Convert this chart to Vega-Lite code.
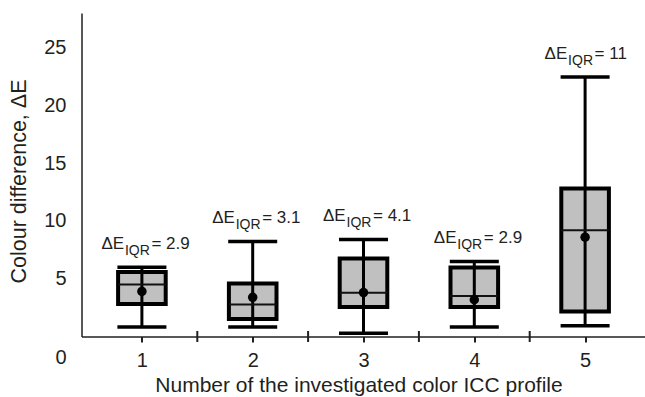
{
  "$schema": "https://vega.github.io/schema/vega-lite/v6.json",
  "autosize": "none",
  "width": 564,
  "height": 323.5,
  "padding": {"left": 81.5, "top": 13, "right": 0, "bottom": 60.5},
  "background": "white",
  "config": {
    "view": {"stroke": null},
    "font": "Liberation Sans",
    "axis": {"labelFont": "Liberation Sans", "titleFont": "Liberation Sans", "labelColor": "#231f20", "titleColor": "#231f20", "titleFontWeight": "normal", "domainColor": "#231f20", "tickColor": "#231f20", "grid": false, "labelFontSize": 20, "titleFontSize": 21}
  },
  "data": {"values": [
    {"x": 1, "min": 0.82, "q1": 2.81, "median": 4.5, "q3": 5.58, "max": 6.0, "mean": 3.9, "iqr_text": "= 2.9"},
    {"x": 2, "min": 0.82, "q1": 1.51, "median": 2.78, "q3": 4.58, "max": 8.23, "mean": 3.39, "iqr_text": "= 3.1"},
    {"x": 3, "min": 0.28, "q1": 2.55, "median": 3.79, "q3": 6.75, "max": 8.4, "mean": 3.8, "iqr_text": "= 4.1"},
    {"x": 4, "min": 0.82, "q1": 2.55, "median": 3.5, "q3": 5.97, "max": 6.5, "mean": 3.18, "iqr_text": "= 2.9"},
    {"x": 5, "min": 0.93, "q1": 2.16, "median": 9.19, "q3": 12.8, "max": 22.47, "mean": 8.6, "iqr_text": "= 11"}
  ]},
  "encoding": {
    "x": {
      "field": "x", "type": "quantitative",
      "scale": {"domain": [0.5, 5.5], "nice": false, "zero": false},
      "axis": {
        "title": "Number of the investigated color ICC profile",
        "values": [1, 2, 3, 4, 5],
        "format": "d",
        "labelFontSize": 20, "titleFontSize": 21,
        "tickSize": 5.5, "tickWidth": 2, "domainWidth": 1.5,
        "labelPadding": 8, "titlePadding": 4,
        "titleX": 277,
        "labelFlush": false, "labelOverlap": false
      }
    }
  },
  "layer": [
    {
      "mark": {"type": "bar", "fill": "#c0c0c0", "stroke": "black", "strokeWidth": 4, "size": 47.6},
      "encoding": {
        "y": {"field": "q1", "type": "quantitative",
          "scale": {"domain": [0, 28], "nice": false},
          "axis": {
            "title": "Colour difference, ΔE",
            "values": [0, 5, 10, 15, 20, 25],
            "labelFontSize": 20, "titleFontSize": 21.5,
            "ticks": false, "domainWidth": 1.5,
            "labelPadding": 15.5, "titlePadding": 13,
            "titleY": 168, "labelFlush": false,
            "labelOffset": {"condition": {"test": "datum.value === 0", "value": 21}, "value": 0}
          }
        },
        "y2": {"field": "q3"}
      }
    },
    {
      "mark": {"type": "rule", "color": "black", "strokeWidth": 3},
      "encoding": {"y": {"field": "min", "type": "quantitative"}, "y2": {"field": "max"}}
    },
    {
      "mark": {"type": "tick", "color": "black", "opacity": 1, "thickness": 3.5, "size": 49, "orient": "horizontal"},
      "encoding": {"y": {"field": "min", "type": "quantitative"}}
    },
    {
      "mark": {"type": "tick", "color": "black", "opacity": 1, "thickness": 3.5, "size": 49, "orient": "horizontal"},
      "encoding": {"y": {"field": "max", "type": "quantitative"}}
    },
    {
      "mark": {"type": "tick", "color": "#111", "opacity": 1, "thickness": 2, "size": 47.6, "orient": "horizontal"},
      "encoding": {"y": {"field": "median", "type": "quantitative"}}
    },
    {
      "mark": {"type": "point", "filled": true, "color": "black", "size": 90, "opacity": 1},
      "encoding": {"y": {"field": "mean", "type": "quantitative"}}
    },
    {
      "mark": {"type": "text", "align": "left", "baseline": "alphabetic", "dx": -40.5, "dy": -18, "fontSize": 17, "color": "#231f20"},
      "encoding": {"y": {"field": "max", "type": "quantitative"}, "text": {"value": "ΔE"}}
    },
    {
      "mark": {"type": "text", "align": "left", "baseline": "alphabetic", "dx": -17, "dy": -12, "fontSize": 14, "color": "#231f20"},
      "encoding": {"y": {"field": "max", "type": "quantitative"}, "text": {"value": "IQR"}}
    },
    {
      "mark": {"type": "text", "align": "left", "baseline": "alphabetic", "dx": 9.5, "dy": -18, "fontSize": 17, "color": "#231f20"},
      "encoding": {"y": {"field": "max", "type": "quantitative"}, "text": {"field": "iqr_text"}}
    },
    {
      "data": {"values": [{"x": 1.5}, {"x": 2.5}, {"x": 3.5}, {"x": 4.5}]},
      "mark": {"type": "tick", "color": "#231f20", "opacity": 1, "thickness": 2, "size": 11, "orient": "vertical"},
      "encoding": {"y": {"datum": 0, "type": "quantitative"}}
    },
    {
      "data": {"values": [{"y": 5}, {"y": 10}, {"y": 15}, {"y": 20}, {"y": 25}]},
      "mark": {"type": "tick", "color": "#231f20", "opacity": 1, "thickness": 2, "size": 11, "orient": "horizontal"},
      "encoding": {"x": {"datum": 0.5, "type": "quantitative"}, "y": {"field": "y", "type": "quantitative"}}
    }
  ]
}
